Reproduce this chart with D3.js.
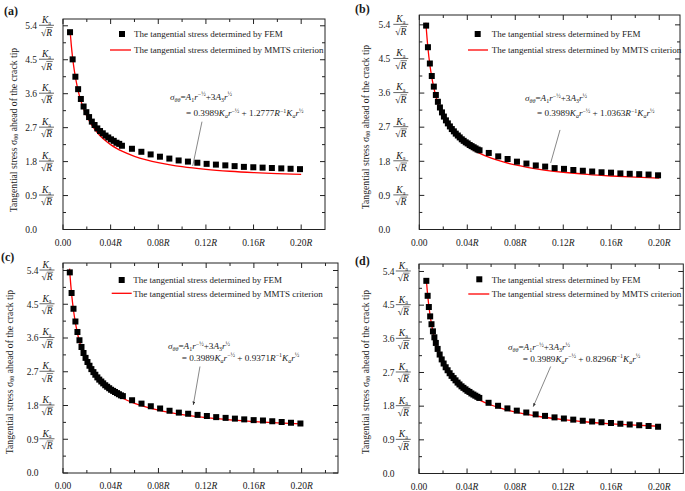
<!DOCTYPE html>
<html><head><meta charset="utf-8">
<script src="https://cdn.jsdelivr.net/npm/d3@7"></script>
<style>body{margin:0;background:#fff} svg{display:block} text{font-family:"Liberation Serif","Times New Roman",serif;fill:#1a1a1a}</style>
</head><body><svg id="c" width="685" height="491"></svg>
<script>
// ---------- data ----------
const panelLabels = ["(a)", "(b)", "(c)", "(d)"];
const xTickValues = [0, 0.04, 0.08, 0.12, 0.16, 0.20];
const xTickLabels = ["0.00", "0.04", "0.08", "0.12", "0.16", "0.20"];
const yTickValues = [0, 0.9, 1.8, 2.7, 3.6, 4.5, 5.4];
const yTickLabels = ["0.0", "0.9", "1.8", "2.7", "3.6", "4.5", "5.4"];
const legendLabels = ["The tangential stress determined by FEM", "The tangential stress determined by MMTS criterion"];
const coefA1 = "0.3989";
const coefB = ["1.2777", "1.0363", "0.9371", "0.8296"];

// FEM sample positions (r / R)
const femXA = [0.0059,0.0081,0.0104,0.0127,0.0150,0.0173,0.0196,0.0219,0.0242,0.0265,0.0288,0.0311,0.0334,0.0357,0.0380,0.0403,0.0426,0.0449,0.0472,0.0495];
const femXFine = [0.0057,0.0072,0.0088,0.0104,0.0121,0.0138,0.0155,0.0172,0.0189,0.0205,0.0222,0.0238,0.0255,0.0271,0.0288,0.0304,0.0321,0.0337,0.0354,0.0370,0.0387,0.0403,0.0420,0.0436,0.0453,0.0469,0.0486,0.0502];
const femXD = [0.0061,0.0072,0.0082,0.0093,0.0104,0.0116,0.0128,0.0140,0.0155,0.0172,0.0189,0.0205,0.0222,0.0238,0.0255,0.0271,0.0288,0.0304,0.0321,0.0337,0.0354,0.0370,0.0387,0.0403,0.0420,0.0436,0.0453,0.0469,0.0486,0.0502];
const femXTail = [0.0579,0.0658,0.0736,0.0814,0.0893,0.0971,0.1049,0.1128,0.1206,0.1284,0.1363,0.1441,0.1519,0.1598,0.1676,0.1754,0.1833,0.1911,0.1990];

// FEM tangential stress (in Ka/sqrt(R))
const femYA = [5.23,4.51,4.05,3.72,3.46,3.26,3.11,2.98,2.86,2.77,2.68,2.61,2.55,2.49,2.44,2.39,2.35,2.30,2.27,2.22];
const femYATail = [2.14,2.06,1.99,1.93,1.88,1.83,1.80,1.77,1.74,1.72,1.70,1.68,1.66,1.65,1.64,1.63,1.62,1.61,1.60];
const femYB = [5.38,4.81,4.38,4.05,3.77,3.55,3.37,3.22,3.09,2.98,2.88,2.80,2.72,2.65,2.59,2.53,2.48,2.43,2.38,2.34,2.30,2.27,2.23,2.20,2.17,2.14,2.11,2.09];
const femYBTail = [2.02,1.93,1.86,1.79,1.74,1.69,1.66,1.62,1.60,1.57,1.55,1.53,1.51,1.50,1.48,1.47,1.46,1.45,1.43];
const femYC = [5.35,4.80,4.38,4.04,3.76,3.54,3.36,3.20,3.07,2.96,2.86,2.77,2.69,2.62,2.55,2.49,2.44,2.39,2.34,2.30,2.26,2.22,2.19,2.16,2.13,2.10,2.07,2.05];
const femYCTail = [1.94,1.85,1.78,1.72,1.66,1.61,1.58,1.55,1.52,1.49,1.47,1.45,1.43,1.41,1.40,1.38,1.36,1.34,1.32];
const femYD = [5.15,4.75,4.45,4.20,3.99,3.80,3.64,3.49,3.33,3.18,3.05,2.94,2.84,2.76,2.68,2.61,2.55,2.49,2.43,2.38,2.33,2.29,2.25,2.21,2.18,2.14,2.11,2.08,2.05,2.02];
const femYDTail = [1.89,1.81,1.74,1.68,1.63,1.58,1.54,1.50,1.47,1.44,1.41,1.39,1.37,1.35,1.33,1.31,1.29,1.27,1.25];

// MMTS criterion curve samples
const mmtsX = [0.0055,0.006,0.007,0.008,0.009,0.010,0.012,0.014,0.016,0.018,0.020,0.025,0.030,0.035,0.040,0.045,0.050,0.060,0.070,0.080,0.090,0.100,0.120,0.140,0.160,0.180,0.200];
const mmtsYA = [null,5.249,4.875,4.574,4.326,4.117,3.782,3.522,3.316,3.144,3.002,2.725,2.524,2.371,2.250,2.151,2.070,1.941,1.846,1.771,1.713,1.665,1.594,1.544,1.508,1.482,1.463];
const mmtsYB = [5.456,5.230,4.855,4.553,4.303,4.093,3.756,3.494,3.285,3.112,2.968,2.687,2.483,2.326,2.202,2.100,2.016,1.882,1.782,1.703,1.641,1.589,1.511,1.454,1.412,1.380,1.355];
const mmtsYC = [5.449,5.223,4.846,4.544,4.294,4.083,3.745,3.482,3.273,3.099,2.954,2.671,2.465,2.307,2.182,2.079,1.994,1.858,1.756,1.675,1.611,1.558,1.476,1.417,1.372,1.338,1.311];
const mmtsYD = [null,5.214,4.837,4.534,4.284,4.072,3.733,3.469,3.259,3.084,2.938,2.654,2.447,2.287,2.160,2.056,1.970,1.831,1.728,1.645,1.579,1.524,1.439,1.377,1.329,1.292,1.263];

// ---------- layout ----------
const panels = [
  {femX: femXA, femY: femYA, femYT: femYATail, mmtsY: mmtsYA,
   L:63, R:325, xmax:0.22, B:229.5, T:19, ymax:5.58, lab:[4,15],
   ytitle:[13,130], numOff:-26, fracOff:-16.5,
   leg:{tx:134, sq:122, l1:110, l2:131, y1:34, y2:50},
   eq:{x1:170, y1:99.5, x2:186, y2:116}, lead:{from:[0.1167,2.858], to:[0.1089,1.683], arrow:false}},
  {femX: femXFine, femY: femYB, femYT: femYBTail, mmtsY: mmtsYB,
   L:419.3, R:680, xmax:0.2173, B:229.5, T:15, ymax:5.66, lab:[355,13],
   ytitle:[365,127], numOff:-29, fracOff:-18.5,
   leg:{tx:491.7, sq:477.7, l1:468, l2:488, y1:34, y2:50},
   eq:{x1:525, y1:101, x2:537, y2:116}, lead:{from:[0.1173,2.627], to:[0.1095,1.756], arrow:false}},
  {femX: femXFine, femY: femYC, femYT: femYCTail, mmtsY: mmtsYC,
   L:63, R:338, xmax:0.2305, B:473, T:263, ymax:5.6, lab:[1,261],
   ytitle:[9,372], numOff:-24.5, fracOff:-16,
   leg:{tx:133.3, sq:121.7, l1:111.7, l2:131.7, y1:280, y2:293.3},
   eq:{x1:168, y1:349, x2:181.7, y2:360.5}, lead:{from:[0.1148,2.84], to:[0.1092,1.813], arrow:true}},
  {femX: femXD, femY: femYD, femYT: femYDTail, mmtsY: mmtsYD,
   L:419, R:683.3, xmax:0.22, B:473.5, T:264, ymax:5.6, lab:[355,265],
   ytitle:[365,372], numOff:-24.5, fracOff:-15.7,
   leg:{tx:491.7, sq:479.3, l1:468.3, l2:489.3, y1:279.3, y2:294},
   eq:{x1:508, y1:350, x2:522.7, y2:361.5}, lead:{from:[0.1096,2.86], to:[0.0951,1.786], arrow:true}}
];

const svg = d3.select("#c");
const defs = svg.append("defs");
defs.append("marker").attr("id","arr").attr("viewBox","0 0 10 10").attr("refX",10).attr("refY",5)
  .attr("markerWidth",5).attr("markerHeight",5).attr("orient","auto")
  .append("path").attr("d","M0,1L10,5L0,9z").attr("fill","#333");

function richText(g, x, y, parts, size) {
  const t = g.append("text").attr("x", x).attr("y", y).attr("font-size", size);
  let cur = 0;
  parts.forEach(([str, o]) => {
    o = o || {};
    const shift = o.sub ? size * 0.25 : (o.sup ? -size * 0.38 : 0);
    const ts = t.append("tspan").text(str).attr("dy", shift - cur);
    cur = shift;
    if (o.sub || o.sup) ts.attr("font-size", size * 0.65);
    if (o.i) ts.attr("font-style", "italic");
  });
  return t;
}

panels.forEach((p, pi) => {
  const g = svg.append("g");
  const x = d3.scaleLinear().domain([0, p.xmax]).range([p.L, p.R]);
  const y = d3.scaleLinear().domain([0, p.ymax]).range([p.B, p.T]);

  // frame
  g.append("rect").attr("x", p.L).attr("y", p.T).attr("width", p.R - p.L).attr("height", p.B - p.T)
    .attr("fill", "none").attr("stroke", "#222").attr("stroke-width", 1);

  // ticks (inward) on all sides
  const xMinor = d3.range(0.02, p.xmax, 0.04);
  const yMinor = d3.range(0.45, p.ymax, 0.9);
  const tick = (x1, y1, x2, y2) => g.append("line").attr("x1", x1).attr("y1", y1).attr("x2", x2).attr("y2", y2)
    .attr("stroke", "#222").attr("stroke-width", 1);
  xTickValues.forEach(v => { const xx = x(v); tick(xx, p.B, xx, p.B - 5); tick(xx, p.T, xx, p.T + 5); });
  xMinor.forEach(v => { const xx = x(v); tick(xx, p.B, xx, p.B - 3); tick(xx, p.T, xx, p.T + 3); });
  yTickValues.forEach(v => { const yy = y(v); tick(p.L, yy, p.L + 5, yy); tick(p.R, yy, p.R - 5, yy); });
  yMinor.forEach(v => { const yy = y(v); tick(p.L, yy, p.L + 3, yy); tick(p.R, yy, p.R - 3, yy); });

  // x tick labels
  xTickValues.forEach((v, i) => {
    const t = g.append("text").attr("x", x(v)).attr("y", p.B + 16).attr("text-anchor", "middle").attr("font-size", 9.5);
    t.append("tspan").text(xTickLabels[i]);
    if (i > 0) t.append("tspan").attr("font-style", "italic").text("R");
  });

  // y tick labels with Ka/sqrt(R)
  yTickValues.forEach((v, i) => {
    const yy = y(v);
    g.append("text").attr("x", p.L + p.numOff).attr("y", yy + 3.3).attr("text-anchor", "end")
      .attr("font-size", 9.5).text(yTickLabels[i]);
    if (v === 0) return;
    const fx = p.L + p.fracOff;
    const k = g.append("text").attr("x", fx).attr("y", yy - 2.6).attr("text-anchor", "middle").attr("font-size", 9.5);
    k.append("tspan").attr("font-style", "italic").text("K");
    k.append("tspan").attr("font-size", 6).attr("dy", 1.8).text("a");
    g.append("line").attr("x1", fx - 7.5).attr("x2", fx + 7.5).attr("y1", yy - 0.5).attr("y2", yy - 0.5)
      .attr("stroke", "#222").attr("stroke-width", 0.7);
    const s = g.append("text").attr("x", fx).attr("y", yy + 9.8).attr("text-anchor", "middle").attr("font-size", 9.5);
    s.append("tspan").text("\u221A");
    s.append("tspan").attr("font-style", "italic").text("R");
    g.append("line").attr("x1", fx - 0.2).attr("x2", fx + 6.2).attr("y1", yy + 1.7).attr("y2", yy + 1.7)
      .attr("stroke", "#222").attr("stroke-width", 0.6);
  });

  // y axis title
  const yt = g.append("text").attr("transform", `translate(${p.ytitle[0]},${p.ytitle[1]}) rotate(-90)`)
    .attr("text-anchor", "middle").attr("dominant-baseline", "central").attr("font-size", 9.7);
  yt.append("tspan").text("Tangential stress \u03C3");
  yt.append("tspan").attr("font-size", 6.5).attr("dy", 2).text("\u03B8\u03B8");
  yt.append("tspan").attr("dy", -2).text(" ahead of the crack tip");

  // panel label
  g.append("text").attr("x", p.lab[0]).attr("y", p.lab[1]).attr("font-size", 12).attr("font-weight", "bold").text(panelLabels[pi]);

  // MMTS curve
  const pts = mmtsX.map((v, i) => [v, p.mmtsY[i]]).filter(d => d[1] != null);
  g.append("path").datum(pts)
    .attr("d", d3.line().x(d => x(d[0])).y(d => y(d[1])).curve(d3.curveMonotoneX))
    .attr("fill", "none").attr("stroke", "#ff0000").attr("stroke-width", 1.3);

  // FEM squares
  const fem = p.femX.map((v, i) => [v, p.femY[i]]).concat(femXTail.map((v, i) => [v, p.femYT[i]]));
  g.selectAll("rect.fem").data(fem).enter().append("rect").attr("class", "fem")
    .attr("x", d => x(d[0]) - 3).attr("y", d => y(d[1]) - 3).attr("width", 6).attr("height", 6).attr("fill", "#000");

  // legend
  const L = p.leg;
  g.append("rect").attr("x", L.sq - 3).attr("y", L.y1 - 3).attr("width", 6).attr("height", 6).attr("fill", "#000");
  g.append("text").attr("x", L.tx).attr("y", L.y1 + 3.2).attr("font-size", 9).text(legendLabels[0]);
  g.append("line").attr("x1", L.l1).attr("x2", L.l2).attr("y1", L.y2).attr("y2", L.y2).attr("stroke", "#ff0000").attr("stroke-width", 1.3);
  g.append("text").attr("x", L.tx).attr("y", L.y2 + 3.2).attr("font-size", 9).text(legendLabels[1]);

  // equation annotation
  const E = p.eq;
  richText(g, E.x1, E.y1, [["\u03C3", {i: 1}], ["\u03B8\u03B8", {sub: 1, i: 1}], ["="], ["A", {i: 1}], ["1", {sub: 1}],
    ["r", {i: 1}], ["\u2212\u00BD", {sup: 1}], ["+3"], ["A", {i: 1}], ["3", {sub: 1}], ["r", {i: 1}], ["\u00BD", {sup: 1}]], 9.2);
  richText(g, E.x2, E.y2, [["= " + coefA1], ["K", {i: 1}], ["a", {sub: 1, i: 1}], ["r", {i: 1}], ["\u2212\u00BD", {sup: 1}],
    [" + " + coefB[pi]], ["R", {i: 1}], ["\u22121", {sup: 1}], ["K", {i: 1}], ["a", {sub: 1, i: 1}], ["r", {i: 1}], ["\u00BD", {sup: 1}]], 9.2);
  const ld = p.lead;
  const ln = g.append("line").attr("x1", x(ld.from[0])).attr("y1", y(ld.from[1])).attr("x2", x(ld.to[0])).attr("y2", y(ld.to[1]))
    .attr("stroke", "#555").attr("stroke-width", 0.7);
  if (ld.arrow) ln.attr("marker-end", "url(#arr)");
});
</script></body></html>
